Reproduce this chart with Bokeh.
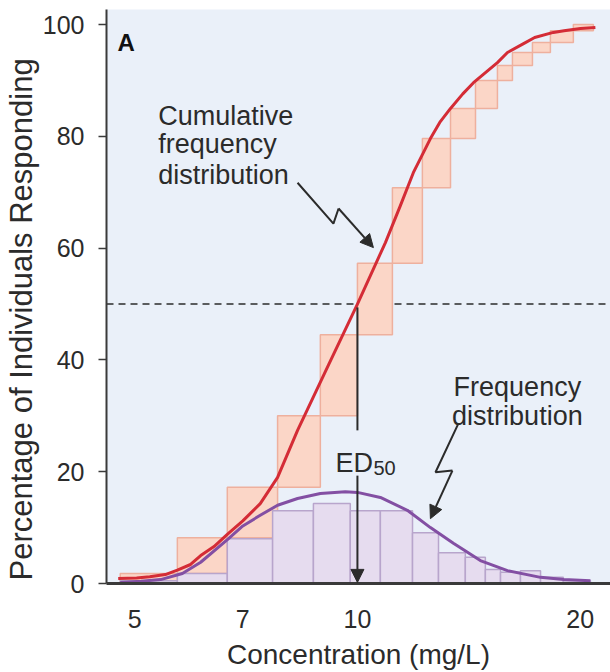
from bokeh.plotting import figure
from bokeh.models import Range1d, FixedTicker, NumeralTickFormatter, Span, Arrow, NormalHead, Title
from bokeh.embed import file_html
from bokeh.resources import INLINE
from bokeh.core.properties import value

# ---------------- data ----------------
x_ticks = [5, 7, 10, 20]
y_ticks = [0, 20, 40, 60, 80, 100]

# cumulative-frequency steps: bin edges (mg/L) and cumulative level (%) at each bin
cum_edges = [4.78, 5.71, 6.67, 7.80, 8.91, 10.0, 11.15, 12.24, 13.36, 14.44,
             15.46, 16.20, 17.24, 18.23, 19.58, 20.84]
cum_levels = [1.8, 8.2, 17.2, 30.0, 44.5, 57.3, 70.8, 79.6, 85.0, 90.0,
              92.7, 95.0, 96.8, 98.9, 100.0]

# frequency histogram: bin edges (mg/L) and % responding in each bin
freq_edges = [4.78, 5.71, 6.67, 7.68, 8.72, 9.78, 10.74, 11.87, 12.87, 13.99,
              14.89, 15.61, 16.61, 17.68, 18.98, 20.65]
freq_values = [0.5, 1.8, 8.0, 13.0, 14.3, 13.0, 13.0, 9.1, 5.5, 4.7,
               2.5, 2.0, 2.3, 1.1, 0.5]

# smooth cumulative curve (red)
cum_curve_x = [4.75, 5.03, 5.24, 5.50, 5.71, 5.95, 6.14, 6.40, 6.67, 7.00, 7.39, 7.80,
               8.30, 9.14, 10.0, 10.91, 11.43, 11.90, 12.55, 12.92, 13.36, 13.88, 14.35,
               15.46, 15.95, 16.77, 17.36, 18.40, 19.02, 20.02, 20.97]
cum_curve_y = [0.9, 1.0, 1.2, 1.6, 2.4, 3.4, 5.0, 6.6, 8.8, 11.2, 14.3, 19.0,
               27.4, 39.1, 50.0, 61.0, 67.6, 73.5, 79.6, 82.5, 85.0, 87.6, 89.6,
               93.2, 95.0, 96.6, 97.7, 98.6, 98.9, 99.3, 99.5]

# smooth frequency curve (purple)
freq_curve_x = [4.78, 5.10, 5.42, 5.80, 6.14, 6.69, 7.00, 7.39, 7.80, 8.30, 8.91, 9.63,
                10.0, 10.74, 11.68, 12.55, 13.48, 14.66, 15.95, 17.68, 19.0, 20.65]
freq_curve_y = [0.2, 0.4, 0.7, 1.8, 3.8, 8.0, 10.3, 12.2, 14.0, 15.2, 16.1, 16.4,
                16.3, 15.4, 13.1, 10.0, 7.2, 4.1, 2.3, 1.1, 0.7, 0.5]

ed50 = 10.0

FONT = "Liberation Sans"
INK = "#2b2b2b"

p = figure(width=610, height=672, x_axis_type="log",
           x_range=Range1d(4.58, 21.98), y_range=Range1d(0, 102.7),
           output_backend="svg", toolbar_location=None,
           min_border_left=106, min_border_right=0, min_border_top=9, min_border_bottom=89)
p.background_fill_color = "#eaf0f9"
p.border_fill_color = "white"
p.outline_line_color = None
p.grid.visible = False

# 50 % dashed reference line (under the bars)
p.add_layout(Span(location=50, dimension="width", line_color=INK, line_width=1.5,
                  line_dash="7 5", level="underlay"))

# cumulative step rectangles
cum_bottom = [0.0] + cum_levels[:-1]
p.quad(left=cum_edges[:-1], right=cum_edges[1:], bottom=cum_bottom, top=cum_levels,
       fill_color="#fbd6c7", line_color="#eeb09e", line_width=1.5)

# frequency bars
p.quad(left=freq_edges[:-1], right=freq_edges[1:], bottom=0, top=freq_values,
       fill_color="#e6dcef", line_color="#b8a5cc", line_width=1.5)

# curves
p.line(freq_curve_x, freq_curve_y, line_color="#834fa3", line_width=3, line_join="round")
p.line(cum_curve_x, cum_curve_y, line_color="#d42c36", line_width=3, line_join="round")

# ED50 arrow
p.segment(x0=[ed50], y0=[49.4], x1=[ed50], y1=[27.4], line_color=INK, line_width=2)
p.add_layout(Arrow(end=NormalHead(size=13, fill_color=INK, line_color=INK),
                   x_start=ed50, y_start=19.3, x_end=ed50, y_end=0.2,
                   line_color=INK, line_width=2))

# zig-zag leader arrows
p.line([8.30, 9.28, 9.43], [71.7, 64.4, 67.1], line_color=INK, line_width=2)
p.add_layout(Arrow(end=NormalHead(size=13, fill_color=INK, line_color=INK),
                   x_start=9.43, y_start=67.1, x_end=10.51, y_end=60.1,
                   line_color=INK, line_width=2))
p.line([13.69, 12.75, 13.44], [28.6, 19.9, 20.2], line_color=INK, line_width=2)
p.add_layout(Arrow(end=NormalHead(size=13, fill_color=INK, line_color=INK),
                   x_start=13.44, y_start=20.2, x_end=12.55, y_end=11.6,
                   line_color=INK, line_width=2))

# texts
p.text(x=[4.74], y=[96.8], text=["A"], text_font=value(FONT), text_font_size=value("24px"),
       text_font_style="bold", text_color="#111111", text_baseline="alphabetic")
p.text(x=[5.38, 5.38, 5.38], y=[83.7, 78.7, 73.0],
       text=["Cumulative", "frequency", "distribution"],
       text_font=value(FONT), text_font_size=value("27px"), text_color=INK,
       text_baseline="alphabetic", text_align="left")
p.text(x=[16.45, 16.45], y=[35.2, 29.9], text=["Frequency", "distribution"],
       text_font=value(FONT), text_font_size=value("27px"), text_color=INK,
       text_baseline="alphabetic", text_align="center")
p.text(x=[9.34], y=[21.6], text=["ED"], text_font=value(FONT), text_font_size=value("27px"),
       text_color=INK, text_baseline="alphabetic")
p.text(x=[10.51], y=[20.6], text=["50"], text_font=value(FONT), text_font_size=value("20px"),
       text_color=INK, text_baseline="alphabetic")

# y-axis title as a side title (lets it sit a little lower than the frame centre)
p.add_layout(Title(text="Percentage of Individuals Responding", align="left", offset=3,
                   text_font=FONT, text_font_size="31px", text_font_style="normal",
                   text_color=INK, standoff=2), "left")

# axes
xa = p.xaxis[0]
xa.ticker = FixedTicker(ticks=x_ticks, minor_ticks=[])
xa.formatter = NumeralTickFormatter(format="0")
xa.major_tick_line_color = None
xa.minor_tick_line_color = None
xa.axis_line_width = 3
xa.axis_line_color = "#3a3a3a"
xa.major_label_text_font = FONT
xa.major_label_text_font_size = "25px"
xa.major_label_text_color = INK
xa.major_label_standoff = 20
xa.axis_label = "Concentration (mg/L)"
xa.axis_label_text_font = FONT
xa.axis_label_text_font_size = "28px"
xa.axis_label_text_font_style = "normal"
xa.axis_label_text_color = INK
xa.axis_label_standoff = 8

ya = p.yaxis[0]
ya.ticker = FixedTicker(ticks=y_ticks, minor_ticks=[])
ya.major_tick_out = 8
ya.major_tick_in = 0
ya.major_tick_line_width = 1.5
ya.major_tick_line_color = "#3a3a3a"
ya.minor_tick_line_color = None
ya.axis_line_width = 2
ya.axis_line_color = "#3a3a3a"
ya.major_label_text_font = FONT
ya.major_label_text_font_size = "25px"
ya.major_label_text_color = INK
ya.major_label_standoff = 14

open("out.html", "w").write(file_html(p, INLINE))
